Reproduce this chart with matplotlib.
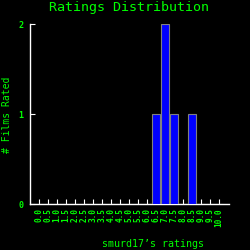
import matplotlib
matplotlib.use("Agg")
import matplotlib.pyplot as plt

ratings = ["0.0","0.5","1.0","1.5","2.0","2.5","3.0","3.5","4.0","4.5","5.0",
           "5.5","6.0","6.5","7.0","7.5","8.0","8.5","9.0","9.5","10.0"]
counts = [0,0,0,0,0,0,0,0,0,0,0,0,0,1,2,1,0,1,0,0,0]

green = "#00ff00"
fig = plt.figure(figsize=(2.5, 2.5), dpi=100, facecolor="black")
ax = fig.add_axes([0.12, 0.184, 0.796, 0.72], facecolor="black")

x = list(range(len(ratings)))
ax.bar(x, counts, width=0.92, color="#0000ff", edgecolor="#808080", linewidth=0.8, zorder=3)

ax.set_xlim(-1, 21.1)
ax.set_ylim(0, 2)
ax.set_xticks(x)
ax.set_xticklabels(ratings, rotation=90, fontsize=5.6, fontweight="bold",
                   family="DejaVu Sans Mono", color=green)
ax.set_yticks([0, 1, 2])
ax.set_yticklabels(["0", "1", "2"], fontsize=6, fontweight="bold",
                   family="DejaVu Sans Mono", color=green)
ax.tick_params(axis="both", direction="in", colors="white", length=3.5, width=0.8)
ax.tick_params(axis="x", labelcolor=green, pad=3)
ax.tick_params(axis="y", labelcolor=green, pad=5)
for s in ["top", "right"]:
    ax.spines[s].set_visible(False)
for s in ["left", "bottom"]:
    ax.spines[s].set_color("white")
    ax.spines[s].set_linewidth(1)

fig.text(0.516, 0.968, "Ratings Distribution", ha="center", va="center",
         color=green, fontsize=9.6, family="DejaVu Sans Mono")
fig.text(0.61, 0.025, "smurd17\u2019s ratings", ha="center", va="center",
         color=green, fontsize=7.2, family="DejaVu Sans Mono")
fig.text(0.03, 0.54, "# Films Rated", ha="center", va="center", rotation=90,
         color=green, fontsize=7, family="DejaVu Sans Mono")

fig.savefig("out.png", dpi=100, facecolor="black")
